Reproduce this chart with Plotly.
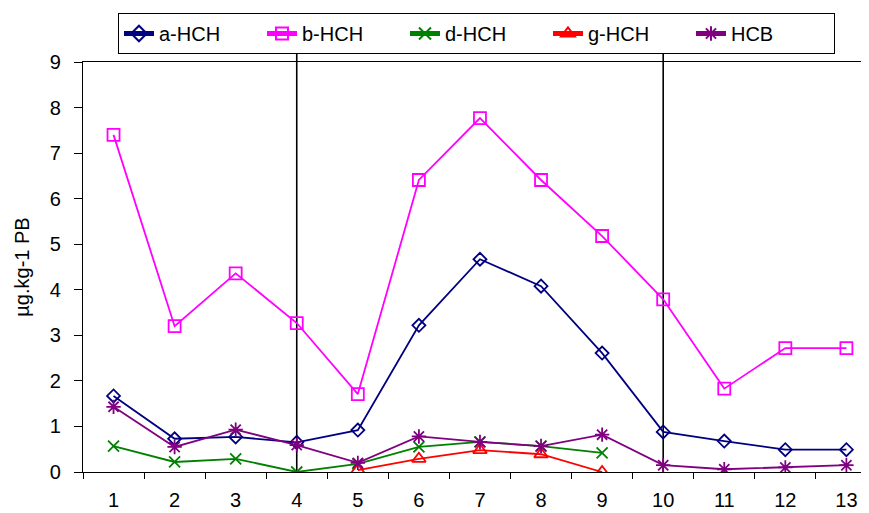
import plotly.graph_objects as go

categories = list(range(1, 14))
a_hch = [1.67, 0.73, 0.77, 0.65, 0.92, 3.22, 4.67, 4.08, 2.61, 0.88, 0.68, 0.49, 0.49]
b_hch = [7.40, 3.20, 4.36, 3.27, 1.71, 6.41, 7.77, 6.41, 5.18, 3.79, 1.83, 2.72, 2.72]
d_hch = [0.57, 0.22, 0.29, 0.0, 0.18, 0.55, 0.66, 0.57, 0.42, None, None, None, None]
g_hch = [None, None, None, None, 0.04, 0.29, 0.48, 0.39, 0.0, None, None, None, None]
hcb = [1.43, 0.55, 0.93, 0.59, 0.20, 0.78, 0.66, 0.57, 0.82, 0.15, 0.06, 0.10, 0.15]
y_ticks = list(range(0, 10))
divider_positions = [4, 10]

FONT = "Liberation Sans, Arial, sans-serif"

series = [
    ("a-HCH", a_hch, "#000080", "diamond-open", 10),
    ("b-HCH", b_hch, "#FF00FF", "square-open", 12),
    ("d-HCH", d_hch, "#008000", "x-thin-open", 11),
    ("g-HCH", g_hch, "#FF0000", "triangle-up-open", 12),
    ("HCB", hcb, "#800080", "asterisk-open", 12),
]

fig = go.Figure()
for name, vals, color, sym, size in series:
    fig.add_trace(go.Scatter(
        x=categories, y=vals, name=name, mode="lines+markers",
        line=dict(color=color, width=1.8),
        marker=dict(symbol=sym, size=size, color=color,
                    line=dict(color=color, width=1.8)),
        connectgaps=False,
    ))

for xv in divider_positions:
    fig.add_shape(type="line", xref="x", yref="paper", x0=xv, x1=xv,
                  y0=0, y1=1.06, line=dict(color="black", width=1.6),
                  layer="below")

fig.update_layout(
    width=861, height=505,
    margin=dict(l=75, r=0, t=54, b=41, autoexpand=False),
    paper_bgcolor="white", plot_bgcolor="white",
    font=dict(family=FONT, size=20, color="black"),
    showlegend=True,
    legend=dict(
        orientation="h", x=0.0445, xanchor="left",
        yref="container", y=1 - 5 / 505, yanchor="top",
        bordercolor="black", borderwidth=1, bgcolor="white",
        font=dict(family=FONT, size=20, color="black"),
        entrywidth=98, entrywidthmode="pixels",
        itemsizing="constant",
    ),
    xaxis=dict(
        range=[0.5, 13.37], tickvals=categories,
        ticktext=[str(c) for c in categories],
        ticks="", showline=True, linecolor="black", linewidth=1.3,
        mirror=True, showgrid=False, zeroline=False, automargin=False,
        ticklabelstandoff=10,
        minor=dict(tickvals=[c + 0.5 for c in range(0, 14)], ticks="outside",
                   ticklen=6, tickcolor="black", tickwidth=1.3, showgrid=False),
        tickfont=dict(family=FONT, size=20),
    ),
    yaxis=dict(
        range=[0, 9], tickvals=y_ticks, ticks="outside", ticklen=8,
        tickcolor="black", tickwidth=1.3,
        showline=True, linecolor="black", linewidth=1.3,
        showgrid=False, zeroline=False, automargin=False,
        ticklabelstandoff=9,
        tickfont=dict(family=FONT, size=20),
        title=dict(text="µg.kg-1 PB", font=dict(family=FONT, size=20), standoff=14),
    ),
)

fig.write_html("out.html")
